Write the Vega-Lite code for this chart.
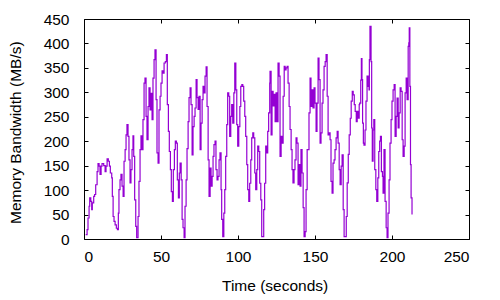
{
"$schema": "https://vega.github.io/schema/vega-lite/v6.json",
"width": 385, "height": 220,
"autosize": "none",
"padding": {"left": 84, "top": 19, "right": 31, "bottom": 61},
"background": "white",
"config": {"view": {"stroke": "black", "strokeWidth": 1},
  "axis": {"grid": false, "domain": false, "tickColor": "black", "tickSize": -4, "labelFont": "Liberation Sans", "labelFontSize": 15.5, "labelColor": "black", "titleFont": "Liberation Sans", "titleFontSize": 15.5, "titleFontWeight": "normal", "titleColor": "black"}},
"data": {"values": [
{"t":1.1,"bw":9},{"t":2.0,"bw":19},{"t":2.6,"bw":43},{"t":3.3,"bw":67},{"t":3.7,"bw":84},{"t":4.4,"bw":77},{"t":5.0,"bw":60},{"t":5.4,"bw":74},{"t":6.3,"bw":87},{"t":6.9,"bw":91},{"t":7.6,"bw":111},{"t":8.5,"bw":138},{"t":9.1,"bw":154},{"t":9.8,"bw":149},{"t":10.4,"bw":132},{"t":11.1,"bw":149},{"t":11.7,"bw":154},{"t":12.8,"bw":150},{"t":13.7,"bw":138},{"t":14.3,"bw":149},{"t":15.0,"bw":164},{"t":15.8,"bw":159},{"t":16.5,"bw":149},{"t":17.1,"bw":135},{"t":18.0,"bw":125},{"t":18.4,"bw":87},{"t":18.9,"bw":46},{"t":19.5,"bw":36},{"t":20.2,"bw":29},{"t":21.0,"bw":22},{"t":21.7,"bw":19},{"t":22.3,"bw":53},{"t":22.7,"bw":101},{"t":23.4,"bw":121},{"t":24.0,"bw":132},{"t":24.7,"bw":108},{"t":25.4,"bw":87},{"t":26.0,"bw":159},{"t":26.7,"bw":183},{"t":27.3,"bw":213},{"t":27.9,"bw":234},{"t":28.6,"bw":210},{"t":29.2,"bw":162},{"t":29.9,"bw":115},{"t":30.5,"bw":142},{"t":31.2,"bw":183},{"t":31.8,"bw":211},{"t":32.3,"bw":169},{"t":32.9,"bw":80},{"t":33.6,"bw":26},{"t":34.2,"bw":3},{"t":35.1,"bw":46},{"t":35.7,"bw":118},{"t":36.4,"bw":183},{"t":37.0,"bw":211},{"t":37.7,"bw":183},{"t":38.3,"bw":244},{"t":39.0,"bw":319},{"t":39.6,"bw":329},{"t":40.3,"bw":251},{"t":40.9,"bw":203},{"t":41.6,"bw":271},{"t":42.2,"bw":309},{"t":42.9,"bw":264},{"t":43.5,"bw":298},{"t":44.2,"bw":244},{"t":44.8,"bw":329},{"t":45.5,"bw":367},{"t":46.1,"bw":387},{"t":46.8,"bw":285},{"t":47.4,"bw":176},{"t":48.1,"bw":155},{"t":48.7,"bw":264},{"t":49.4,"bw":292},{"t":50.0,"bw":319},{"t":50.7,"bw":344},{"t":51.3,"bw":339},{"t":52.0,"bw":360},{"t":52.8,"bw":363},{"t":53.5,"bw":377},{"t":54.1,"bw":275},{"t":54.8,"bw":220},{"t":55.4,"bw":179},{"t":56.1,"bw":142},{"t":56.7,"bw":97},{"t":57.4,"bw":77},{"t":58.0,"bw":142},{"t":58.7,"bw":183},{"t":59.3,"bw":200},{"t":60.0,"bw":196},{"t":60.6,"bw":121},{"t":61.3,"bw":84},{"t":61.9,"bw":135},
{"t":62.4,"bw":155},{"t":63.1,"bw":121},{"t":63.7,"bw":40},{"t":64.3,"bw":23},{"t":65.0,"bw":3},{"t":65.6,"bw":67},{"t":66.3,"bw":121},{"t":66.9,"bw":185},{"t":67.6,"bw":240},{"t":68.2,"bw":289},{"t":68.9,"bw":309},{"t":69.5,"bw":275},{"t":70.2,"bw":172},{"t":70.8,"bw":230},{"t":71.5,"bw":251},{"t":72.1,"bw":268},{"t":72.8,"bw":326},{"t":73.4,"bw":289},{"t":74.1,"bw":265},{"t":74.7,"bw":292},{"t":75.4,"bw":183},{"t":76.0,"bw":237},{"t":76.7,"bw":285},{"t":77.3,"bw":312},{"t":78.0,"bw":299},{"t":78.6,"bw":333},{"t":79.3,"bw":352},{"t":79.9,"bw":271},{"t":80.6,"bw":162},{"t":81.2,"bw":87},{"t":81.9,"bw":145},{"t":82.5,"bw":108},{"t":83.2,"bw":128},{"t":83.8,"bw":169},{"t":84.4,"bw":193},{"t":85.1,"bw":200},{"t":85.7,"bw":142},{"t":86.4,"bw":121},{"t":87.0,"bw":128},{"t":87.7,"bw":162},{"t":88.3,"bw":176},{"t":89.0,"bw":101},{"t":89.4,"bw":40},{"t":90.1,"bw":5},{"t":90.8,"bw":53},{"t":91.4,"bw":101},{"t":92.0,"bw":169},{"t":92.7,"bw":234},{"t":93.3,"bw":299},{"t":94.0,"bw":292},{"t":94.6,"bw":210},{"t":95.3,"bw":251},{"t":95.9,"bw":275},{"t":96.6,"bw":237},{"t":97.3,"bw":299},{"t":97.9,"bw":360},{"t":98.6,"bw":305},{"t":99.2,"bw":234},{"t":99.8,"bw":190},{"t":100.5,"bw":230},{"t":101.2,"bw":271},{"t":101.8,"bw":312},{"t":102.5,"bw":316},{"t":103.1,"bw":312},{"t":103.7,"bw":282},{"t":104.4,"bw":251},{"t":105.0,"bw":210},{"t":105.7,"bw":152},{"t":106.3,"bw":101},{"t":107.0,"bw":77},{"t":107.6,"bw":114},{"t":108.3,"bw":162},{"t":108.9,"bw":207},{"t":109.6,"bw":217},{"t":110.2,"bw":207},{"t":110.9,"bw":135},{"t":111.5,"bw":101},{"t":112.2,"bw":142},{"t":112.8,"bw":190},{"t":113.5,"bw":179},{"t":114.1,"bw":114},{"t":114.8,"bw":80},{"t":115.4,"bw":5},{"t":116.0,"bw":5},{"t":116.7,"bw":60},{"t":117.3,"bw":114},{"t":118.0,"bw":190},{"t":118.6,"bw":176},{"t":119.3,"bw":220},{"t":119.9,"bw":258},{"t":120.6,"bw":319},
{"t":120.8,"bw":343},{"t":121.5,"bw":213},{"t":122.1,"bw":302},{"t":122.8,"bw":272},{"t":123.4,"bw":296},{"t":124.1,"bw":240},{"t":124.7,"bw":299},{"t":125.4,"bw":240},{"t":126.0,"bw":360},{"t":126.7,"bw":333},{"t":127.3,"bw":169},{"t":128.0,"bw":210},{"t":128.7,"bw":196},{"t":129.3,"bw":292},{"t":130.0,"bw":353},{"t":130.6,"bw":346},{"t":131.2,"bw":350},{"t":131.9,"bw":353},{"t":132.5,"bw":319},{"t":133.2,"bw":271},{"t":133.8,"bw":224},{"t":134.5,"bw":183},{"t":135.1,"bw":142},{"t":135.7,"bw":115},{"t":136.4,"bw":142},{"t":137.0,"bw":162},{"t":137.7,"bw":207},{"t":138.3,"bw":196},{"t":139.0,"bw":111},{"t":139.6,"bw":152},{"t":140.3,"bw":108},{"t":140.9,"bw":183},{"t":141.6,"bw":135},{"t":142.3,"bw":64},{"t":142.9,"bw":5},{"t":143.6,"bw":15},{"t":144.2,"bw":101},{"t":144.9,"bw":183},{"t":145.5,"bw":183},{"t":146.1,"bw":258},{"t":146.8,"bw":329},{"t":147.4,"bw":271},{"t":148.1,"bw":305},{"t":148.7,"bw":268},{"t":149.4,"bw":309},{"t":150.0,"bw":278},{"t":150.7,"bw":220},{"t":151.3,"bw":278},{"t":152.0,"bw":370},{"t":152.6,"bw":326},{"t":153.3,"bw":196},{"t":153.9,"bw":217},{"t":154.6,"bw":278},{"t":155.2,"bw":305},{"t":155.9,"bw":353},{"t":156.6,"bw":363},{"t":157.2,"bw":377},{"t":157.9,"bw":292},{"t":158.5,"bw":213},{"t":159.1,"bw":217},{"t":159.8,"bw":203},{"t":160.4,"bw":118},{"t":161.1,"bw":94},{"t":161.7,"bw":155},{"t":162.4,"bw":162},{"t":163.0,"bw":183},{"t":163.7,"bw":207},{"t":164.4,"bw":220},{"t":165.0,"bw":196},{"t":165.7,"bw":142},{"t":166.3,"bw":111},{"t":167.0,"bw":149},{"t":167.6,"bw":172},{"t":168.3,"bw":60},{"t":168.9,"bw":5},{"t":169.6,"bw":5},{"t":170.3,"bw":46},{"t":170.9,"bw":115},{"t":171.6,"bw":173},{"t":172.2,"bw":213},{"t":172.9,"bw":247},{"t":173.5,"bw":282},{"t":174.2,"bw":302},{"t":174.8,"bw":295},{"t":175.5,"bw":275},{"t":176.1,"bw":261},{"t":176.8,"bw":240},{"t":177.4,"bw":261},{"t":178.1,"bw":247},{"t":178.7,"bw":275},
{"t":179.0,"bw":278},{"t":179.7,"bw":325},{"t":180.1,"bw":369},{"t":180.5,"bw":326},{"t":180.9,"bw":237},{"t":181.4,"bw":196},{"t":181.8,"bw":192},{"t":182.5,"bw":223},{"t":183.1,"bw":282},{"t":183.8,"bw":333},{"t":184.5,"bw":312},{"t":185.1,"bw":305},{"t":185.3,"bw":367},{"t":185.7,"bw":435},{"t":186.4,"bw":363},{"t":186.8,"bw":227},{"t":187.2,"bw":159},{"t":187.7,"bw":223},{"t":188.2,"bw":244},{"t":188.8,"bw":142},{"t":189.5,"bw":101},{"t":190.1,"bw":77},{"t":190.8,"bw":125},{"t":191.4,"bw":179},{"t":192.0,"bw":200},{"t":192.5,"bw":210},{"t":193.1,"bw":138},{"t":193.8,"bw":128},{"t":194.2,"bw":94},{"t":194.8,"bw":183},{"t":195.5,"bw":77},{"t":196.2,"bw":23},{"t":196.8,"bw":3},{"t":197.4,"bw":53},{"t":198.1,"bw":121},{"t":198.7,"bw":196},{"t":199.4,"bw":244},{"t":200.0,"bw":282},{"t":200.7,"bw":305},{"t":201.4,"bw":316},{"t":202.0,"bw":210},{"t":202.7,"bw":251},{"t":203.3,"bw":288},{"t":204.0,"bw":227},{"t":204.6,"bw":258},{"t":205.3,"bw":309},{"t":205.9,"bw":302},{"t":206.6,"bw":203},{"t":207.2,"bw":169},{"t":207.9,"bw":190},{"t":208.5,"bw":299},{"t":209.2,"bw":329},{"t":209.8,"bw":285},{"t":210.5,"bw":394},{"t":210.9,"bw":401},{"t":211.2,"bw":432},{"t":211.6,"bw":312},{"t":212.0,"bw":152},{"t":212.4,"bw":84},{"t":212.8,"bw":84},{"t":213.0,"bw":50}
]},
"layer": [
 {"mark": {"type": "line", "color": "#9400D3", "strokeWidth": 1.2, "interpolate": "step-after"},
  "encoding": {
   "x": {"field": "t", "type": "quantitative", "scale": {"domain": [0, 250], "nice": false},
     "axis": {"orient": "bottom", "values": [0,50,100,150,200,250], "labelPadding": 14, "title": "Time (seconds)", "titleBaseline": "alphabetic", "titleY": 51, "titleX": 190.6}},
   "y": {"field": "bw", "type": "quantitative", "scale": {"domain": [0, 450], "nice": false},
     "axis": {"orient": "left", "values": [0,50,100,150,200,250,300,350,400,450], "labelPadding": 19, "title": "Memory Bandwidth (MB/s)", "titleBaseline": "alphabetic", "titleX": -63.3, "titleY": 113.2}}}},
 {"mark": {"type": "line", "opacity": 0},
  "encoding": {
   "x": {"field": "t", "type": "quantitative", "axis": {"orient": "top", "values": [0,50,100,150,200,250], "labels": false, "title": null}},
   "y": {"field": "bw", "type": "quantitative", "axis": {"orient": "right", "values": [0,50,100,150,200,250,300,350,400,450], "labels": false, "title": null}}}}
],
"resolve": {"axis": {"x": "independent", "y": "independent"}}
}
